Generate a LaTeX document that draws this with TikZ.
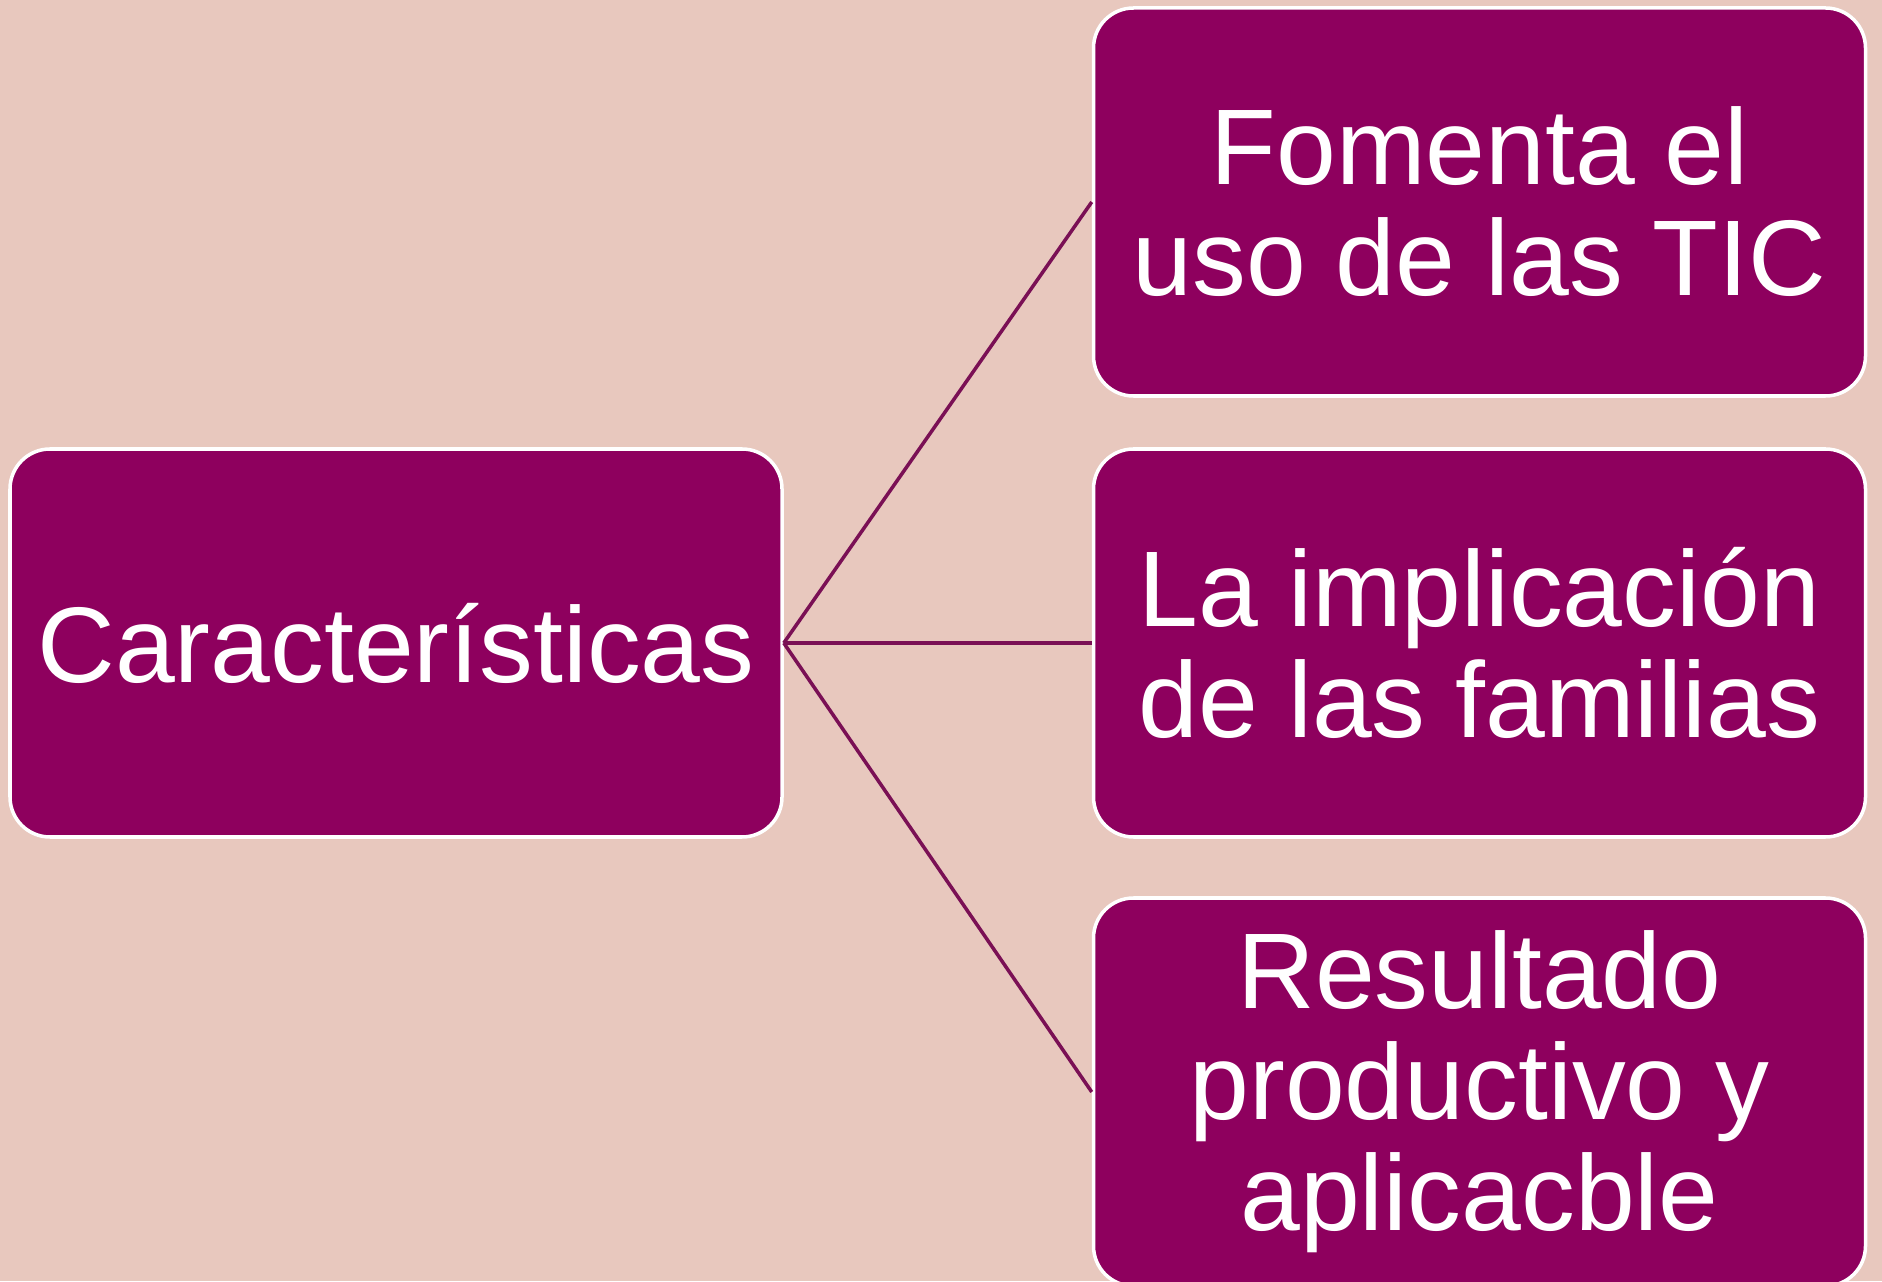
\documentclass[tikz,border=0pt]{standalone}
\usepackage{fontspec}
\setmainfont{Liberation Sans}
\definecolor{fondo}{HTML}{E8C8BE}
\definecolor{morado}{HTML}{8E005E}
\definecolor{linea}{HTML}{7A1055}

\begin{document}
\begin{tikzpicture}[
  caja/.style={draw=white, line width=1pt, fill=morado, rounded corners=0.4cm,
    minimum width=7.72cm, minimum height=3.88cm, inner sep=0pt,
    text=white, align=center, font=\fontsize{30.6}{31.6}\selectfont},
  rama/.style={draw=linea, line width=1pt}]
  % Background
  \fill[fondo] (0,0) rectangle (18.82,12.81);
  \useasboundingbox (0,0) rectangle (18.82,12.81);

  % Main box
  \node[caja] (car) at (3.96,6.38) {Características};

  % Right boxes
  \node[caja] (tic) at (14.795,10.79) {Fomenta el\\uso de las TIC};
  \node[caja] (fam) at (14.795,6.38) {La implicación\\de las familias};
  \node[caja] (res) at (14.795,1.89) {Resultado\\productivo y\\aplicacble};

  % Connectors
  \draw[rama] (car.east) -- (tic.west);
  \draw[rama] (car.east) -- (fam.west);
  \draw[rama] (car.east) -- (res.west);
\end{tikzpicture}
\end{document}
